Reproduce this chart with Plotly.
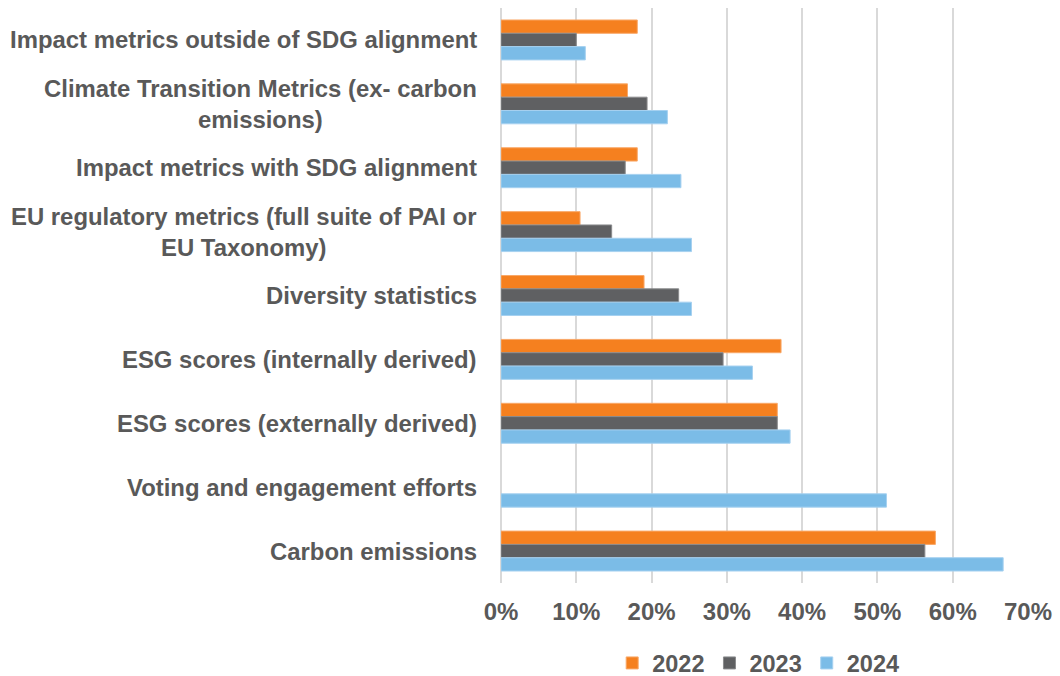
import plotly.graph_objects as go

categories = [
    "Impact metrics outside of SDG alignment",
    "Climate Transition Metrics (ex- carbon<br>emissions)",
    "Impact metrics with SDG alignment",
    "EU regulatory metrics (full suite of PAI or<br>EU Taxonomy)",
    "Diversity statistics",
    "ESG scores (internally derived)",
    "ESG scores (externally derived)",
    "Voting and engagement efforts",
    "Carbon emissions",
]
years = ["2022", "2023", "2024"]
v2022 = [0.181, 0.168, 0.181, 0.105, 0.190, 0.372, 0.367, None, 0.577]
v2023 = [0.100, 0.194, 0.165, 0.147, 0.236, 0.295, 0.367, None, 0.563]
v2024 = [0.112, 0.221, 0.239, 0.253, 0.253, 0.334, 0.384, 0.512, 0.667]
tick_vals = [0, 0.1, 0.2, 0.3, 0.4, 0.5, 0.6, 0.7]

colors = ["#F5801F", "#5F6062", "#7BBCE7"]
edges = ["#F9A868", "#8A8B8D", "#A6D1F0"]
FONT = "Liberation Sans, Arial, sans-serif"
TXT = "#595959"

fig = go.Figure()
for name, vals, c, e in zip(years, [v2022, v2023, v2024], colors, edges):
    fig.add_trace(go.Bar(
        name=name, y=categories, x=vals, orientation="h",
        marker=dict(color=c, line=dict(color=e, width=1)),
    ))

for cat in categories:
    fig.add_annotation(
        text=cat, xref="paper", x=0, xanchor="right", xshift=-22,
        yref="y", y=cat, yanchor="middle", align="center", showarrow=False,
        font=dict(family=FONT, size=23.9, color=TXT, weight="bold"),
    )

fig.update_layout(
    width=1060, height=676,
    margin=dict(l=501, r=28, t=8, b=93),
    paper_bgcolor="white", plot_bgcolor="white",
    barmode="group", bargap=0.375, bargroupgap=0,
    showlegend=True,
    legend=dict(
        orientation="h", x=0.488, xanchor="center",
        yref="container", y=0.019, yanchor="middle",
        font=dict(family=FONT, size=23.5, color=TXT, weight="bold"),
        itemwidth=30, traceorder="normal",
    ),
    xaxis=dict(
        range=[0, 0.7], tickvals=tick_vals, tickformat=".0%",
        showgrid=True, gridcolor="#D9D9D9", gridwidth=2,
        zeroline=True, zerolinecolor="#D9D9D9", zerolinewidth=2,
        showline=False, ticks="", ticklabelstandoff=12,
        tickfont=dict(family=FONT, size=24, color=TXT, weight="bold"),
        fixedrange=True,
    ),
    yaxis=dict(
        autorange="reversed", showticklabels=False, showgrid=False,
        zeroline=False, showline=False, ticks="",
    ),
)

fig.write_html(
    "out.html",
    config={"displayModeBar": False},
    post_script="document.body.style.margin='0';document.body.style.overflow='hidden';",
)
